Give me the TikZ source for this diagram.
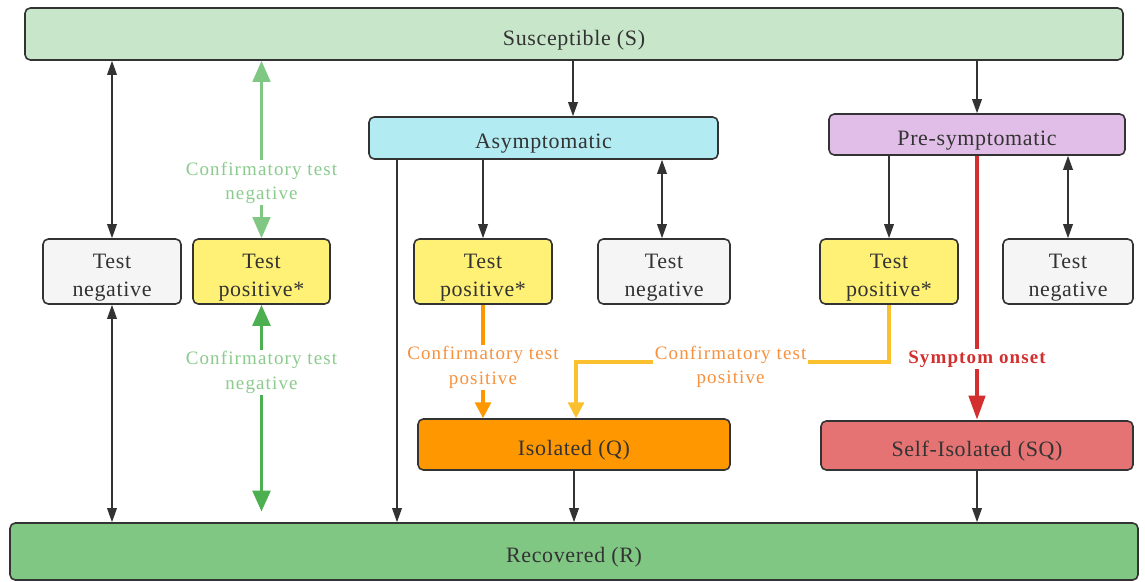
\documentclass[tikz,border=0pt]{standalone}
\usepackage{fontspec}
\setmainfont{Liberation Serif}
\newfontfamily\boxfont[LetterSpace=3]{Liberation Serif}
\newfontfamily\lblfont[LetterSpace=6]{Liberation Serif}
\usetikzlibrary{arrows.meta}
\definecolor{cS}{HTML}{C8E6C9}
\definecolor{cA}{HTML}{B2EBF2}
\definecolor{cP}{HTML}{E1BEE7}
\definecolor{cTN}{HTML}{F5F5F5}
\definecolor{cTP}{HTML}{FFF176}
\definecolor{cQ}{HTML}{FF9800}
\definecolor{cSQ}{HTML}{E57373}
\definecolor{cR}{HTML}{81C784}
\definecolor{lgreen}{HTML}{81C784}
\definecolor{lgtext}{HTML}{8BCB8D}
\definecolor{dgreen}{HTML}{4CAF50}
\definecolor{lorange}{HTML}{FF9800}
\definecolor{amber}{HTML}{FBC02D}
\definecolor{cred}{HTML}{D32F2F}
\definecolor{otext}{HTML}{F7913D}
\definecolor{edge}{HTML}{333333}
\newcommand\dn[1]{\raisebox{-3.3pt}[\height][\depth]{#1}}
\begin{document}
\begin{tikzpicture}[x=0.02cm,y=-0.02cm,
  box/.style 2 args={draw=edge, line width=0.9pt, rounded corners=3pt,
    minimum width=#1*0.02cm, minimum height=#2*0.02cm, inner sep=0pt,
    font=\boxfont\fontsize{12.5}{16}\selectfont, text=edge, align=center},
  lbl/.style={fill=white, inner sep=1pt, align=center,
    font=\lblfont\fontsize{10.8}{14}\selectfont},
  tipb/.tip={Triangle[length=8pt,width=5.5pt]},
  blk/.style={draw=edge, line width=0.85pt, -tipb},
  blk2/.style={draw=edge, line width=0.85pt, tipb-tipb},
  lg2/.style={draw=lgreen, line width=1.7pt, {Triangle[length=12pt,width=10pt]}-{Triangle[length=12pt,width=10pt]}},
  dg2/.style={draw=dgreen, line width=2.2pt, {Triangle[length=12pt,width=10pt]}-{Triangle[length=12pt,width=10pt]}},
  oarr/.style={draw=lorange, line width=1.8pt, -{Triangle[length=9pt,width=9pt]}},
  aarr/.style={draw=amber, line width=1.8pt, -{Triangle[length=9pt,width=9pt]}},
  rarr/.style={draw=cred, line width=2.8pt, -{Triangle[length=14pt,width=9pt]}}
]
\useasboundingbox (0,0) rectangle (1145,581);

% boxes
\node[box={1098}{52}, fill=cS] (S) at (574,34) {\dn{Susceptible (S)}};
\node[box={349}{42}, fill=cA] (A) at (543.5,138) {\dn{Asymptomatic}};
\node[box={296}{41}, fill=cP] (P) at (977,134.5) {\dn{Pre-symptomatic}};
\node[box={138}{65}, fill=cTN] (TN1) at (112,271.5) {\dn{Test}\\\dn{negative}};
\node[box={137}{65}, fill=cTP] (TP1) at (261.5,271.5) {\dn{Test}\\\dn{positive*}};
\node[box={138}{65}, fill=cTP] (TP2) at (483,271.5) {\dn{Test}\\\dn{positive*}};
\node[box={132}{65}, fill=cTN] (TN2) at (664,271.5) {\dn{Test}\\\dn{negative}};
\node[box={138}{65}, fill=cTP] (TP3) at (889,271.5) {\dn{Test}\\\dn{positive*}};
\node[box={130}{65}, fill=cTN] (TN3) at (1068,271.5) {\dn{Test}\\\dn{negative}};
\node[box={312}{51}, fill=cQ] (Q) at (574,444.5) {\dn{Isolated (Q)}};
\node[box={312}{49}, fill=cSQ] (SQ) at (977,445.5) {\dn{Self-Isolated (SQ)}};
\node[box={1128}{57}, fill=cR] (R) at (574,551.5) {\dn{Recovered (R)}};

\coordinate (xa) at (397,0);
\coordinate (xsa) at (573,0);
\coordinate (xtn2) at (662,0);
\coordinate (bend) at (576,362);

% left column
\draw[blk2] (TN1.north) -- (S.south -| TN1.north);
\draw[blk2] (TN1.south) -- (R.north -| TN1.south);
\draw[lg2] (TP1.north) -- node[lbl, text=lgtext, pos=0.313] (l1) {Confirmatory test\\negative} (S.south -| TP1.north);
\draw[dg2, shorten >=6pt] (TP1.south) -- node[lbl, text=lgtext, pos=0.311] (l2) {Confirmatory test\\negative} (R.north -| TP1.south);

% asymptomatic
\draw[blk] (S.south -| xsa) -- (A.north -| xsa);
\draw[blk] (A.south -| xa) -- (R.north -| xa);
\draw[blk] (A.south -| TP2.north) -- (TP2.north);
\draw[blk2] (A.south -| xtn2) -- (TN2.north -| xtn2);
\draw[oarr] (TP2.south) -- node[lbl, text=otext, pos=0.553] (l3) {Confirmatory test\\positive} (Q.north -| TP2.south);

% pre-symptomatic
\draw[blk] (S.south -| P.north) -- (P.north);
\draw[blk] (P.south -| TP3.north) -- (TP3.north);
\draw[blk2] (P.south -| TN3.north) -- (TN3.north);
\draw[aarr] (TP3.south) |- node[lbl, text=otext, pos=0.753, yshift=-2.8pt] (l4) {Confirmatory test\\positive} (bend) -- (Q.north -| bend);
\draw[rarr] (P.south) -- node[lbl, text=cred, pos=0.77, font=\lblfont\bfseries\fontsize{10.8}{14}\selectfont] (l5) {Symptom onset} (SQ.north);

% to recovered
\draw[blk] (Q.south) -- (R.north -| Q.south);
\draw[blk] (SQ.south) -- (R.north -| SQ.south);
\end{tikzpicture}
\end{document}
